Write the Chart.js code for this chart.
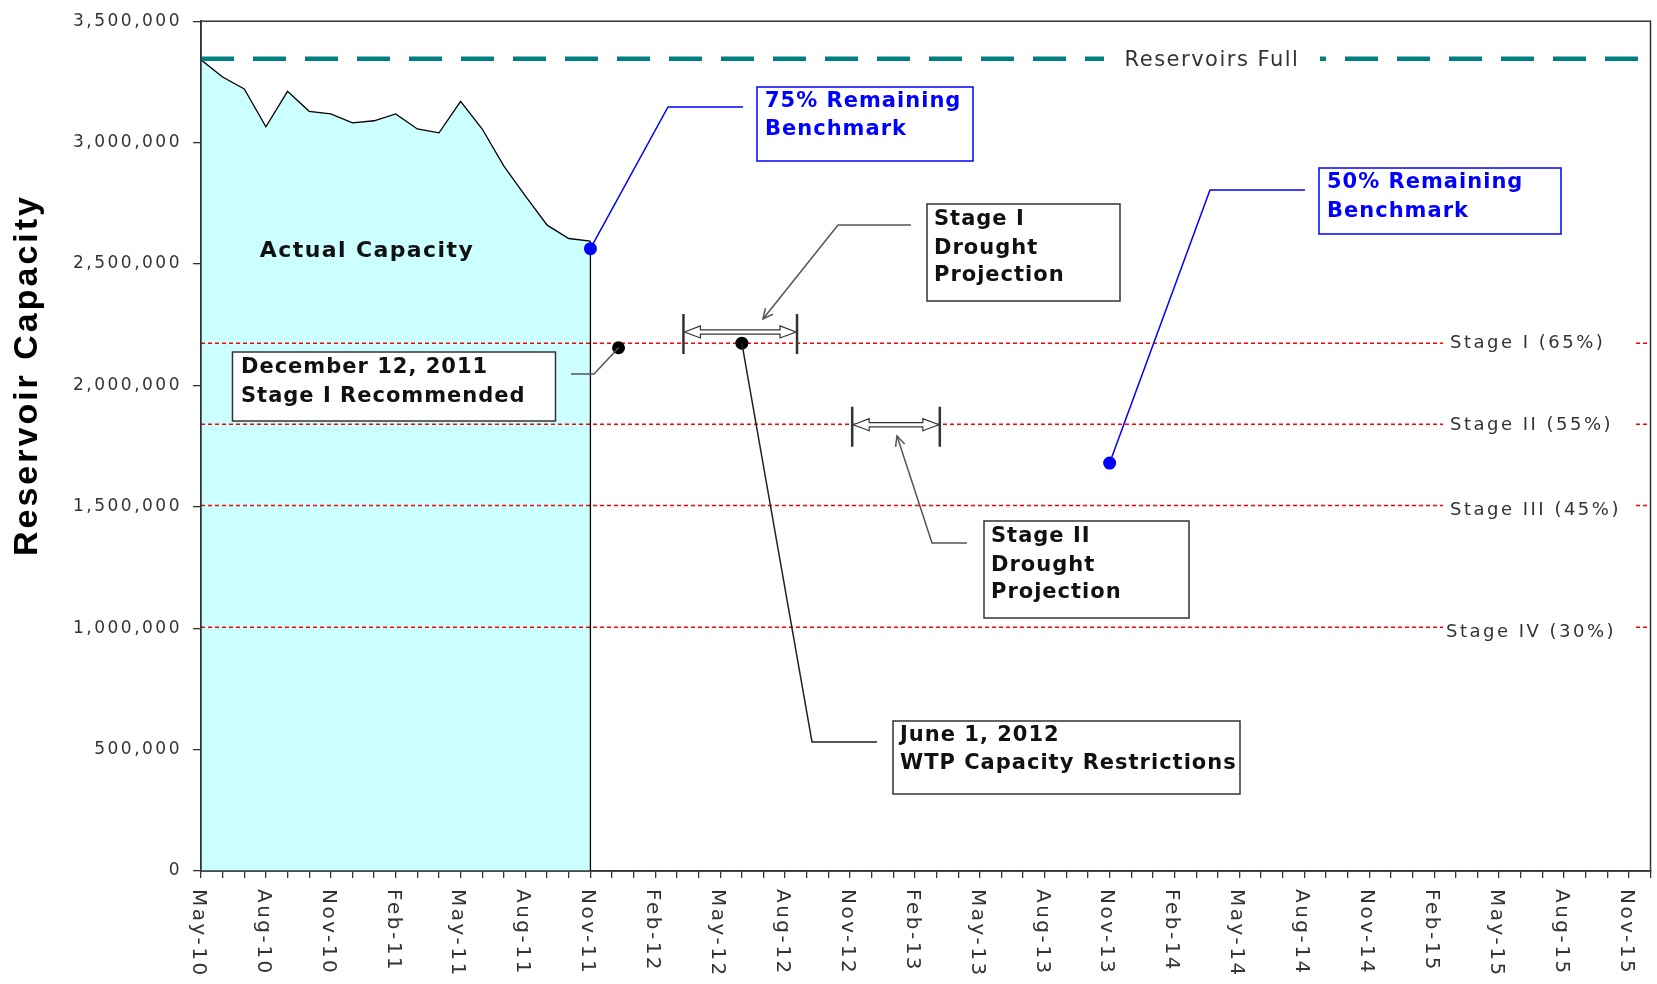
<!DOCTYPE html>
<html>
<head>
<meta charset="utf-8">
<title>Reservoir Capacity</title>
<script src="https://cdn.jsdelivr.net/npm/chart.js@4.4.1/dist/chart.umd.min.js"></script>
<style>
  html, body { margin: 0; padding: 0; background: #fff; }
  #wrap { position: relative; width: 1657px; height: 984px; }
</style>
</head>
<body>
<div id="wrap"><canvas id="capacityChart"></canvas></div>
<script>
// x axis: one tick per month, May-10 (index 0) to Dec-15 (index 67), a label every 3rd month
const monthCount = 68;
const tickLabels = [
  "May-10", "Aug-10", "Nov-10", "Feb-11", "May-11", "Aug-11", "Nov-11",
  "Feb-12", "May-12", "Aug-12", "Nov-12", "Feb-13", "May-13", "Aug-13",
  "Nov-13", "Feb-14", "May-14", "Aug-14", "Nov-14", "Feb-15", "May-15",
  "Aug-15", "Nov-15"
];

// actual reservoir capacity, monthly from May-10 to Nov-11
const actualCapacity = [
  3341000, 3270000, 3221000, 3065000, 3211000, 3129000, 3118000,
  3081000, 3090000, 3118000, 3056000, 3040000, 3170000, 3056000,
  2903000, 2780000, 2660000, 2605000, 2594000
];

const fullCapacity = 3345000;
const stageNames = ["Stage I (65%)", "Stage II (55%)", "Stage III (45%)", "Stage IV (30%)"];
const stageLevels = [2174000, 1840000, 1505000, 1003500];

// benchmark points: [month index, capacity]
const benchmark75 = [18, 2563000];
const benchmark50 = [42, 1680000];

// milestones: Dec 12 2011 and Jun 1 2012
const milestoneX = [19.3, 25];
const milestoneY = [2155000, 2174000];

// drought projection ranges (month index from/to, capacity)
const rangeStart = [22.3, 30.1];
const rangeEnd = [27.55, 34.15];
const rangeLevel = [2220000, 1838000];

const FONT = "'DejaVu Sans', Verdana, sans-serif";

function flatLine(value) {
  return [{ x: 0, y: value }, { x: monthCount - 1, y: value }];
}

const datasets = [];

// dots on top
datasets.push({
  data: [{ x: benchmark75[0], y: benchmark75[1] }, { x: benchmark50[0], y: benchmark50[1] }],
  showLine: false, pointRadius: 6.5, pointBackgroundColor: "#0000ff", pointBorderWidth: 0
});
datasets.push({
  data: milestoneX.map((x, i) => ({ x: x, y: milestoneY[i] })),
  showLine: false, pointRadius: 6.5, pointBackgroundColor: "#000", pointBorderWidth: 0
});

// right edge of the actual capacity area
const lastIdx = actualCapacity.length - 1;
datasets.push({
  data: [{ x: lastIdx, y: 0 }, { x: lastIdx, y: actualCapacity[lastIdx] }],
  borderColor: "#000", borderWidth: 1.3, pointRadius: 0
});

stageLevels.forEach(level => {
  datasets.push({
    data: flatLine(level),
    borderColor: "#ff0000", borderWidth: 1.5, borderDash: [4, 3], pointRadius: 0
  });
});

datasets.push({
  data: flatLine(fullCapacity),
  borderColor: "#008080", borderWidth: 4.5, borderDash: [33, 19], pointRadius: 0
});

datasets.push({
  data: actualCapacity.map((v, i) => ({ x: i, y: v })),
  borderColor: "#000", borderWidth: 1.3, pointRadius: 0,
  fill: "origin", backgroundColor: "#ccffff", tension: 0
});

// callout boxes (pixel layout); a leader starts from its data anchor when it has one
const callouts = [
  { lines: ["75% Remaining", "Benchmark"], box: [757, 87, 216, 74], color: "#0000ff", text: "#0000ff",
    textX: 765, textY: [101.5, 130], anchor: benchmark75, path: [[668, 107], [743, 107]] },
  { lines: ["50% Remaining", "Benchmark"], box: [1319, 168, 242, 66], color: "#0000ff", text: "#0000ff",
    textX: 1327, textY: [183, 211.5], anchor: benchmark50, path: [[1210, 190], [1305, 190]] },
  { lines: ["Stage I", "Drought", "Projection"], box: [927, 204, 193, 97], color: "#333", text: "#111",
    textX: 934, textY: [220, 248.5, 276], path: [[911, 225], [838, 225], [763, 319]], arrow: true, lead: "#555" },
  { lines: ["Stage II", "Drought", "Projection"], box: [984, 521, 205, 97], color: "#333", text: "#111",
    textX: 991, textY: [537, 565.5, 593], path: [[967, 543], [932, 543], [897, 436]], arrow: true, lead: "#555" },
  { lines: ["June 1, 2012", "WTP Capacity Restrictions"], box: [893, 721, 347, 73], color: "#333", text: "#111",
    textX: 900, textY: [735.5, 764], anchor: [milestoneX[1], milestoneY[1]], path: [[812, 742], [877, 742]], lead: "#222" },
  { lines: ["December 12, 2011", "Stage I Recommended"], box: [232.5, 352, 323, 69], color: "#333", text: "#111",
    textX: 241, textY: [368, 396.5], anchor: [milestoneX[0], milestoneY[0]], path: [[594, 374], [571, 374]], lead: "#555" }
];

function drawArrowHead(ctx, from, tip) {
  const ang = Math.atan2(tip[1] - from[1], tip[0] - from[0]);
  const len = 11, spread = 0.45;
  ctx.beginPath();
  ctx.moveTo(tip[0] - len * Math.cos(ang - spread), tip[1] - len * Math.sin(ang - spread));
  ctx.lineTo(tip[0], tip[1]);
  ctx.lineTo(tip[0] - len * Math.cos(ang + spread), tip[1] - len * Math.sin(ang + spread));
  ctx.stroke();
}

function drawRange(ctx, x1, x2, y) {
  const hl = 17, hh = 6, sh = 2.2;
  ctx.save();
  ctx.strokeStyle = "#333";
  ctx.lineWidth = 2.5;
  ctx.beginPath();
  ctx.moveTo(x1, y - 18); ctx.lineTo(x1, y + 22);
  ctx.moveTo(x2, y - 18); ctx.lineTo(x2, y + 22);
  ctx.stroke();
  ctx.beginPath();
  ctx.moveTo(x1 + 1, y);
  ctx.lineTo(x1 + hl, y - hh);
  ctx.lineTo(x1 + hl, y - sh);
  ctx.lineTo(x2 - hl, y - sh);
  ctx.lineTo(x2 - hl, y - hh);
  ctx.lineTo(x2 - 1, y);
  ctx.lineTo(x2 - hl, y + hh);
  ctx.lineTo(x2 - hl, y + sh);
  ctx.lineTo(x1 + hl, y + sh);
  ctx.lineTo(x1 + hl, y + hh);
  ctx.closePath();
  ctx.fillStyle = "#fff";
  ctx.fill();
  ctx.lineWidth = 1.2;
  ctx.stroke();
  ctx.restore();
}

const decorPlugin = {
  id: "decor",
  beforeDraw(chart) {
    chart.ctx.letterSpacing = "2.5px";
  },
  afterDraw(chart) {
    const ctx = chart.ctx;
    const xs = chart.scales.x, ys = chart.scales.y;
    const area = chart.chartArea;
    ctx.save();

    // plot frame
    ctx.strokeStyle = "#333";
    ctx.lineWidth = 1.5;
    ctx.strokeRect(area.left, area.top, area.right - area.left, area.bottom - area.top);

    // x labels, rotated clockwise
    ctx.fillStyle = "#333";
    ctx.font = "20px " + FONT;
    ctx.letterSpacing = "2.5px";
    ctx.textAlign = "left";
    ctx.textBaseline = "middle";
    tickLabels.forEach((label, i) => {
      const px = xs.getPixelForValue(i * 3);
      ctx.save();
      ctx.translate(px - 3, area.bottom + 18);
      ctx.rotate(Math.PI / 2);
      ctx.fillText(label, 0, 0);
      ctx.restore();
    });

    // y axis title
    ctx.save();
    ctx.translate(28, 375);
    ctx.rotate(-Math.PI / 2);
    ctx.font = "bold 34px 'Liberation Sans', Arial, sans-serif";
    ctx.letterSpacing = "3px";
    ctx.fillStyle = "#000";
    ctx.textAlign = "center";
    ctx.fillText("Reservoir Capacity", 0, 0);
    ctx.restore();

    // stage labels at the right
    const stageOffset = [0, 1, 5, 5];
    ctx.font = "18px " + FONT;
    ctx.letterSpacing = "2.5px";
    stageLevels.forEach((level, i) => {
      const py = ys.getPixelForValue(level);
      ctx.fillStyle = "#fff";
      ctx.fillRect(1443, py - 6, 190, 12);
      ctx.fillStyle = "#333";
      ctx.fillText(stageNames[i], i === 3 ? 1446 : 1450, py + stageOffset[i]);
    });

    // reservoirs full label
    const fy = ys.getPixelForValue(fullCapacity);
    ctx.fillStyle = "#fff";
    ctx.fillRect(1104, fy - 6, 216, 12);
    ctx.fillStyle = "#333";
    ctx.font = "21px " + FONT;
    ctx.letterSpacing = "1.5px";
    ctx.textAlign = "center";
    ctx.fillText("Reservoirs Full", 1212, fy + 2);

    // drought projection ranges
    rangeStart.forEach((s, i) => {
      drawRange(ctx, xs.getPixelForValue(s), xs.getPixelForValue(rangeEnd[i]), ys.getPixelForValue(rangeLevel[i]));
    });

    // callouts
    callouts.forEach(c => {
      const pts = c.path.slice();
      if (c.anchor) pts.unshift([xs.getPixelForValue(c.anchor[0]), ys.getPixelForValue(c.anchor[1])]);
      ctx.strokeStyle = c.lead || c.color;
      ctx.lineWidth = 1.5;
      ctx.beginPath();
      ctx.moveTo(pts[0][0], pts[0][1]);
      for (let k = 1; k < pts.length; k++) ctx.lineTo(pts[k][0], pts[k][1]);
      ctx.stroke();
      if (c.arrow) drawArrowHead(ctx, pts[pts.length - 2], pts[pts.length - 1]);

      const [bx, by, bw, bh] = c.box;
      ctx.fillStyle = "#fff";
      ctx.fillRect(bx, by, bw, bh);
      ctx.strokeStyle = c.color;
      ctx.lineWidth = 1.5;
      ctx.strokeRect(bx, by, bw, bh);
      ctx.fillStyle = c.text;
      ctx.font = "bold 21px " + FONT;
      ctx.letterSpacing = "1px";
      ctx.textAlign = "left";
      ctx.textBaseline = "middle";
      c.lines.forEach((t, k) => ctx.fillText(t, c.textX, c.textY[k]));
    });

    // area label
    ctx.fillStyle = "#111";
    ctx.font = "bold 22px " + FONT;
    ctx.letterSpacing = "1.4px";
    ctx.textAlign = "center";
    ctx.fillText("Actual Capacity", 367, 251.5);

    ctx.restore();
    ctx.letterSpacing = "0px";
  }
};

const ctx = document.getElementById("capacityChart");
new Chart(ctx.getContext("2d"), {
  type: "line",
  data: { datasets: datasets },
  options: {
    responsive: true,
    maintainAspectRatio: false,
    animation: false,
    layout: { padding: { left: 0, right: 5, top: 18, bottom: 0 } },
    plugins: { legend: { display: false }, tooltip: { enabled: false } },
    scales: {
      x: {
        type: "linear",
        min: 0,
        max: monthCount - 1,
        ticks: { display: false, stepSize: 1, autoSkip: false },
        grid: { drawOnChartArea: false, drawTicks: true, tickLength: 7, color: "#333", lineWidth: 1.3 },
        border: { display: true, color: "#333", width: 1.5 },
        afterFit(scale) { scale.height = 113; }
      },
      y: {
        min: 0,
        max: 3500000,
        ticks: {
          stepSize: 500000,
          padding: 11,
          color: "#333",
          font: { family: FONT, size: 17 },
          callback: v => v.toLocaleString("en-US")
        },
        grid: { drawOnChartArea: false, drawTicks: true, tickLength: 8, color: "#333", lineWidth: 1.3 },
        border: { display: true, color: "#333", width: 1.5 },
        afterFit(scale) { scale.width = 201; }
      }
    }
  },
  plugins: [decorPlugin]
});
</script>
</body>
</html>
